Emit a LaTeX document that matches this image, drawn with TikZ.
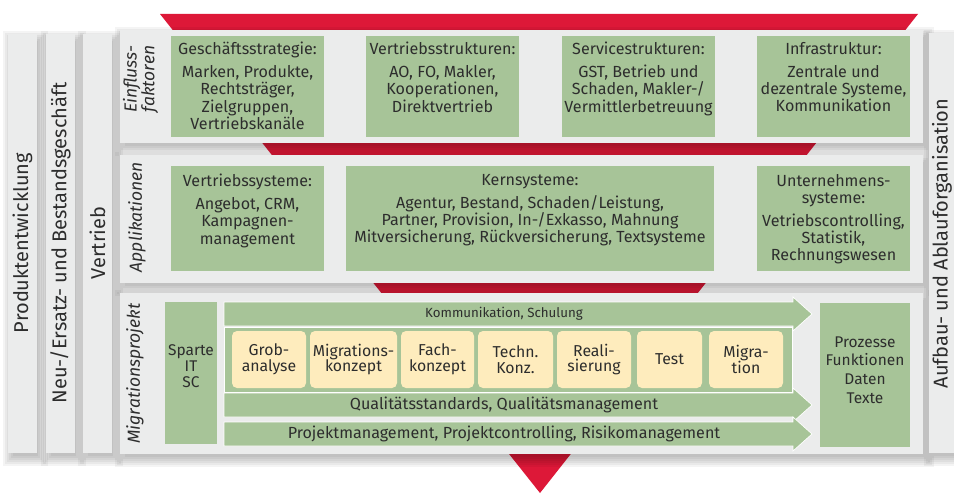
\documentclass[tikz,border=0pt]{standalone}
\usepackage{fontspec}
\setmainfont{Fira Sans}
\setsansfont{Fira Sans}
\definecolor{gr}{RGB}{167,196,152}
\definecolor{pan}{RGB}{235,236,236}
\definecolor{yel}{RGB}{254,236,189}
\definecolor{rd}{RGB}{221,24,56}
\definecolor{tx}{RGB}{45,45,45}
\newcommand\myfs{\fontsize{16.1}{17.3}\selectfont}
\newcommand\myph{\fontsize{15.8}{15.5}\selectfont}
\newcommand\mysmall{\fontsize{13.3}{14}\selectfont}
\newcommand\mybar{\fontsize{20}{22}\selectfont}
\newcommand\mylbl{\fontsize{17.5}{15.5}\selectfont\itshape}
\newcommand\mysoftshadow[4]{%
  \foreach \r in {-2,0,2,4,6,8}{%
    \fill[black,opacity=0.045] ({#1+3-(\r)},{#2+5-(\r)}) rectangle ({#3+3+(\r)},{#4+5+(\r)});}}
\begin{document}
\begin{tikzpicture}[x=1pt,y=-1pt,
  panel/.style={fill=pan, inner sep=0pt, outer sep=0pt, anchor=north west},
  gbox/.style={fill=gr, inner sep=0pt, outer sep=0pt, anchor=north west},
  phase/.style={fill=yel, rounded corners=5pt, inner sep=0pt, align=center, text=tx, font=\myph},
  btext/.style={anchor=north, align=center, inner sep=0pt, text=tx, font=\myfs},
  ctext/.style={align=center, inner sep=0pt, text=tx, font=\myfs},
  bartext/.style={rotate=90, text=tx, font=\mybar, inner sep=0pt},
  lbl/.style={rotate=90, text=tx, font=\mylbl, align=center, inner sep=0pt},
  arr/.style={fill=gr, draw=white, line width=0.7pt}
]
\useasboundingbox (0,0) rectangle (954,495);
\fill[white] (0,0) rectangle (954,495);
% red funnel
\fill[rd] (160,14) -- (918,14) -- (540,493) -- cycle;
% shadows
\mysoftshadow{8}{34}{37}{453}
\mysoftshadow{46}{34}{75}{453}
\mysoftshadow{83}{34}{112}{453}
\mysoftshadow{929}{33}{960}{453}
\mysoftshadow{120}{30}{923}{143}
\mysoftshadow{120}{155}{923}{283}
\mysoftshadow{120}{293}{923}{454}
% vertical bars
\node[panel, minimum width=29pt, minimum height=419pt] (bar1) at (8,34) {};
\node[panel, minimum width=29pt, minimum height=419pt] (bar2) at (46,34) {};
\node[panel, minimum width=29pt, minimum height=419pt] (bar3) at (83,34) {};
\node[panel, minimum width=30pt, minimum height=420pt] (bar4) at (929,33) {};
\node[bartext] (t1) at (22.5,243) {Produktentwicklung};
\node[bartext] (t2) at (60.5,243) {Neu-/Ersatz- und Bestandsgeschäft};
\node[bartext] (t3) at (97.5,243) {Vertrieb};
\node[bartext] (t4) at (942,243.5) {Aufbau- und Ablauforganisation};
% panels
\node[panel, minimum width=803pt, minimum height=113pt] (p1) at (120,30) {};
\node[panel, minimum width=803pt, minimum height=128pt] (p2) at (120,155) {};
\node[panel, minimum width=803pt, minimum height=161pt] (p3) at (120,293) {};
\node[lbl] (l1) at (140.5,79) {Einfluss-\\faktoren};
\node[lbl] (l2) at (137,217) {Applikationen};
\node[lbl] (l3) at (135,373.5) {Migrationsprojekt};
% panel 1 boxes
\node[gbox, minimum width=153pt, minimum height=101pt] (b11) at (171,36) {};
\node[gbox, minimum width=153pt, minimum height=101pt] (b12) at (366,36) {};
\node[gbox, minimum width=153pt, minimum height=101pt] (b13) at (562,36) {};
\node[gbox, minimum width=153pt, minimum height=101pt] (b14) at (757,36) {};
\node[btext] (x11) at ([yshift=-6pt]b11.north) {Geschäftsstrategie:\\[5.5pt]Marken, Produkte,\\Rechtsträger,\\Zielgruppen,\\Vertriebskanäle};
\node[btext] (x12) at ([yshift=-6pt]b12.north) {Vertriebsstrukturen:\\[5.5pt]AO, FO, Makler,\\Kooperationen,\\Direktvertrieb};
\node[btext] (x13) at ([yshift=-6pt]b13.north) {Servicestrukturen:\\[5.5pt]GST, Betrieb und\\Schaden, Makler-/\\Vermittlerbetreuung};
\node[btext] (x14) at ([yshift=-6pt]b14.north) {Infrastruktur:\\[5.5pt]Zentrale und\\dezentrale Systeme,\\Kommunikation};
% panel 2 boxes
\node[gbox, minimum width=153pt, minimum height=105pt] (b21) at (171,166) {};
\node[gbox, minimum width=368pt, minimum height=105pt] (b22) at (346,166) {};
\node[gbox, minimum width=153pt, minimum height=105pt] (b23) at (757,166) {};
\node[btext] (x21) at ([yshift=-8pt]b21.north) {Vertriebssysteme:\\[5.5pt]Angebot, CRM,\\Kampagnen-\\management};
\node[btext] (x22) at ([yshift=-8pt]b22.north) {Kernsysteme:\\[5.5pt]Agentur, Bestand, Schaden/Leistung,\\Partner, Provision, In-/Exkasso, Mahnung\\Mitversicherung, Rückversicherung, Textsysteme};
\node[btext] (x23) at ([yshift=-8pt]b23.north) {Unternehmens-\\systeme:\\[5.5pt]Vetriebscontrolling,\\Statistik,\\Rechnungswesen};
% panel 3
\node[gbox, minimum width=52pt, minimum height=142pt] (sp) at (165,302) {};
\node[ctext, font=\fontsize{15.5}{16}\selectfont] (spt) at (191,366) {Sparte\\IT\\SC};
\node[gbox, minimum width=90pt, minimum height=144pt] (pz) at (820,303) {};
\node[ctext, font=\fontsize{15.5}{18.7}\selectfont] (pzt) at (865,370) {Prozesse\\Funktionen\\Daten\\Texte};
\path[arr] (224,302) -- (793,302) -- (793,297) -- (812,314) -- (793,331) -- (793,326) -- (224,326) -- cycle;
\path[fill=gr, draw=white, line width=0.9pt] (224,327) rectangle (792,392);
\path[arr] (224,393) -- (793,393) -- (793,388) -- (812,405) -- (793,422) -- (793,417) -- (224,417) -- cycle;
\path[arr] (224,422) -- (793,422) -- (793,417) -- (812,434) -- (793,451) -- (793,446) -- (224,446) -- cycle;
\node[ctext, font=\mysmall] (kom) at (504,314) {Kommunikation, Schulung};
\node[ctext] (qual) at (504,405) {Qualitätsstandards, Qualitätsmanagement};
\node[ctext] (proj) at (504,434) {Projektmanagement, Projektcontrolling, Risikomanagement};
% phases
\node[phase, minimum width=74pt, minimum height=57pt] (ph1) at (269,359.5) {Grob-\\analyse};
\node[phase, minimum width=87pt, minimum height=57pt] (ph2) at (353.5,359.5) {Migrations-\\konzept};
\node[phase, minimum width=73pt, minimum height=57pt] (ph3) at (437.5,359.5) {Fach-\\konzept};
\node[phase, minimum width=75pt, minimum height=57pt] (ph4) at (515.5,359.5) {Techn.\\Konz.};
\node[phase, minimum width=74pt, minimum height=57pt] (ph5) at (594,359.5) {Reali-\\sierung};
\node[phase, minimum width=65pt, minimum height=57pt] (ph6) at (669.5,359.5) {Test};
\node[phase, minimum width=74pt, minimum height=57pt] (ph7) at (746,359.5) {Migra-\\tion};
\end{tikzpicture}
\end{document}
